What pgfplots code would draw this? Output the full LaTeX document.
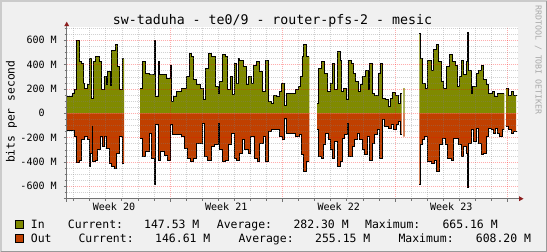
\documentclass[border=0pt]{standalone}
\usepackage{fontspec}
\setmainfont{DejaVu Sans Mono}
\usepackage{pgfplots}
\usepackage{pgfplotstable}
\pgfplotsset{compat=1.18}

\definecolor{bgc}{RGB}{240,240,240}
\definecolor{incol}{RGB}{128,138,0}
\definecolor{outcol}{RGB}{192,64,0}
\definecolor{arrowc}{RGB}{140,30,30}
\definecolor{shadea}{RGB}{203,203,203}
\definecolor{shadeb}{RGB}{153,153,153}
\definecolor{wmark}{RGB}{170,170,170}

% x = time position along the month (pixel column), y = bits per second in M
\pgfplotstableread{
x y
66.7 142
72.3 164
74.7 197
76.7 595
79.7 425
81.3 411
83.0 247
84.7 205
87.3 233
89.3 453
91.7 123
93.3 425
95.0 466
99.0 425
101.7 192
104.0 301
106.0 233
107.3 342
110.0 225
111.7 515
115.0 562
117.3 384
119.3 192
122.7 447
124.0 447
}\inA
\pgfplotstableread{
x y
66.7 -140
72.3 -145
74.7 -192
76.7 -405
79.7 -384
81.7 -219
84.0 -192
87.0 -219
89.0 -438
90.7 -329
92.0 -110
92.7 -397
95.7 -390
97.0 -301
100.0 -192
102.3 -274
104.7 -192
106.7 -288
109.0 -411
111.3 -438
114.0 -452
116.3 -329
119.0 -192
122.3 -411
124.0 -411
}\outA
\pgfplotstableread{
x y
140.0 205
142.3 425
145.7 330
149.3 315
151.3 315
154.3 595
155.3 137
158.0 425
159.3 315
166.7 288
170.0 397
171.3 95
173.3 137
176.7 178
181.7 206
186.7 301
189.0 494
191.7 466
193.3 274
196.7 233
200.0 206
203.3 110
205.7 370
208.3 494
211.7 466
215.0 219
218.3 164
219.7 260
222.3 480
225.0 466
227.7 192
230.0 301
232.3 151
234.0 411
236.3 247
238.0 453
239.7 438
243.0 384
246.3 233
248.7 301
251.0 247
253.7 397
256.3 425
259.7 342
262.0 178
265.3 438
268.3 96
271.3 82
273.0 150
276.3 137
279.7 178
281.7 247
284.7 68
286.3 164
295.3 192
298.0 219
300.3 301
302.0 466
303.7 562
306.0 466
309.3 466
}\inB
\pgfplotstableread{
x y
140.0 -205
142.3 -356
145.7 -315
149.0 -164
151.3 -370
154.3 -589
155.3 -96
158.0 -384
160.7 -315
164.0 -343
167.3 -384
170.0 -96
172.3 -178
181.0 -192
184.7 -288
187.3 -370
190.7 -397
193.0 -370
196.3 -247
202.0 -82
204.7 -356
207.3 -384
211.3 -274
214.7 -260
218.0 -82
219.7 -301
222.3 -397
225.0 -384
228.0 -260
231.3 -164
234.0 -370
236.3 -384
239.7 -329
242.0 -219
244.7 -301
248.0 -329
250.7 -192
254.0 -370
257.3 -397
259.7 -247
263.0 -192
265.3 -397
268.0 -151
271.3 -137
276.3 -130
279.7 -192
282.0 -219
284.7 -41
286.3 -164
295.3 -192
299.0 -178
301.3 -342
303.7 -480
306.0 -397
309.3 -397
}\outB
\pgfplotstableread{
x y
317.0 82
318.7 370
321.3 425
324.7 329
327.0 178
330.3 247
332.7 411
334.7 192
337.0 507
340.3 438
341.7 178
343.7 205
346.0 110
348.7 438
351.3 411
353.7 329
355.3 260
358.3 178
360.3 233
362.7 301
365.3 356
368.0 192
369.3 411
372.0 164
374.7 150
378.0 329
380.3 411
382.7 123
385.3 110
388.7 55
390.3 123
392.7 170
395.3 150
398.0 82
400.3 164
401.7 164
}\inC
\pgfplotstableread{
x y
317.0 -137
318.7 -356
321.3 -370
323.7 -260
325.3 -164
328.0 -219
330.3 -301
332.7 -370
334.7 -233
337.0 -438
340.3 -397
342.0 -205
344.7 -178
347.0 -82
348.7 -356
352.0 -274
354.7 -219
357.0 -164
359.3 -219
362.0 -301
364.7 -342
367.0 -192
369.3 -384
372.0 -247
374.7 -178
377.0 -137
379.3 -370
382.0 -55
384.7 -110
388.7 -123
391.3 -96
393.7 -137
396.0 -96
398.7 -69
400.3 -178
401.7 -178
}\outC
\pgfplotstableread{
x y
419.3 660
420.0 452
422.7 247
425.3 205
427.7 438
431.0 356
433.3 521
436.0 562
438.7 425
441.0 260
443.3 205
446.0 384
449.3 480
452.7 425
455.0 397
457.0 219
459.3 301
461.0 438
463.3 315
466.0 425
467.7 665
468.4 356
471.0 164
472.7 219
476.0 329
478.7 356
481.0 397
483.3 274
486.0 233
488.7 164
492.0 178
494.3 137
497.7 164
504.3 164
}\inD
\pgfplotstableread{
x y
419.3 -589
420.0 -260
422.7 -219
424.3 -192
427.7 -397
431.0 -411
434.3 -384
436.7 -480
439.3 -260
442.7 -205
445.3 -260
447.7 -370
451.0 -384
453.3 -205
458.3 -260
461.0 -356
463.3 -274
466.0 -329
467.7 -608
468.4 -247
471.0 -137
473.3 -233
476.0 -123
478.7 -247
481.0 -342
483.3 -329
486.0 -192
488.7 -123
491.0 -137
493.3 -164
495.7 -123
497.7 -164
499.7 -192
502.3 -137
504.3 -137
}\outD
\pgfplotstableread{
x y
506.0 205
508.7 150
511.0 178
513.3 150
516.0 148
}\inE
\pgfplotstableread{
x y
506.0 -110
508.7 -137
511.0 -164
513.3 -151
516.0 -147
}\outE

\begin{document}
\begin{tikzpicture}
\fill[bgc] (0bp,0bp) rectangle (547bp,-252bp);
\draw[shadea, line width=1.5bp] (0.75bp,-252bp) -- (0.75bp,-0.75bp) -- (547bp,-0.75bp);
\draw[shadeb, line width=1.5bp] (0.75bp,-251.25bp) -- (546.25bp,-251.25bp) -- (546.25bp,-0.75bp);

\begin{axis}[
  at={(66.7bp,-198.7bp)}, anchor=south west,
  scale only axis, width=451.3bp, height=172bp,
  xmin=66.7, xmax=518, ymin=-702, ymax=712,
  axis line style={draw=none},
  axis background/.style={fill=white},
  axis on top,
  tick align=outside, xtick pos=bottom, ytick pos=left,
  major tick length=3bp, minor tick length=2bp,
  every tick/.style={black!55, line width=0.6bp},
  xtick={170,282.49,394.98,507.47}, xticklabels={,,,},
  minor xtick={73.58,89.65,105.72,121.79,137.86,153.93,186.07,202.14,218.21,234.28,250.35,266.42,298.56,314.63,330.70,346.77,362.84,378.91,411.05,427.12,443.19,459.26,475.33,491.40},
  extra x ticks={114,226.25,338.7,451.2},
  extra x tick labels={Week 20,Week 21,Week 22,Week 23},
  extra x tick style={grid=none, major tick length=0pt},
  ytick={-600,-400,-200,0,200,400,600},
  yticklabels={-600 M,-400 M,-200 M,0\hphantom{MM},200 M,400 M,600 M},
  minor ytick={-700,-650,-550,-500,-450,-350,-300,-250,-150,-100,-50,50,100,150,250,300,350,450,500,550,650,700},
  grid=both,
  major grid style={red, opacity=0.32, dash pattern=on 1bp off 1bp, line width=0.55bp},
  minor grid style={gray, opacity=0.35, dash pattern=on 1bp off 1bp, line width=0.55bp},
  xticklabel style={font=\fontsize{10.1}{12}\selectfont, anchor=base, inner sep=0pt, yshift=-12bp},
  yticklabel style={font=\fontsize{10.1}{12}\selectfont, anchor=east, inner sep=0pt, xshift=-6.7bp},
  /pgf/number format/assume math mode=true,
  inarea/.style={const plot, fill=incol, draw=none},
  outarea/.style={const plot, fill=outcol, draw=none},
  bline/.style={const plot, black, line width=1bp},
]
\addplot[inarea] table {\inA} \closedcycle;
\addplot[outarea] table {\outA} \closedcycle;
\addplot[inarea] table {\inB} \closedcycle;
\addplot[outarea] table {\outB} \closedcycle;
\addplot[inarea] table {\inC} \closedcycle;
\addplot[outarea] table {\outC} \closedcycle;
\addplot[inarea] coordinates {(403.3,206) (404.7,206)} \closedcycle;
\addplot[outarea] coordinates {(403.3,-192) (404.7,-192)} \closedcycle;
\addplot[inarea] table {\inD} \closedcycle;
\addplot[outarea] table {\outD} \closedcycle;
\addplot[inarea] table {\inE} \closedcycle;
\addplot[outarea] table {\outE} \closedcycle;
\addplot[bline] table {\inA};
\addplot[bline] table {\outA};
\addplot[bline] table {\inB};
\addplot[bline] table {\outB};
\addplot[bline] table {\inC};
\addplot[bline] table {\outC};
\addplot[bline] table {\inD};
\addplot[bline] table {\outD};
\addplot[bline] table {\inE};
\addplot[bline] table {\outE};
\end{axis}

% axis lines and arrows
\draw[black!55, line width=1bp] (63.7bp,-198.7bp) -- (519.5bp,-198.7bp);
\draw[black!55, line width=1bp] (66.7bp,-201.7bp) -- (66.7bp,-25bp);
\fill[arrowc] (519bp,-196.2bp) -- (523.5bp,-198.7bp) -- (519bp,-201.2bp) -- cycle;
\fill[arrowc] (64.2bp,-26.2bp) -- (66.7bp,-21.7bp) -- (69.2bp,-26.2bp) -- cycle;

% title and labels
\node[anchor=base, inner sep=0pt, font=\fontsize{13.3}{16}\selectfont] at (272.5bp,-24bp) {sw-taduha - te0/9 - router-pfs-2 - mesic};
\node[rotate=90, anchor=base, inner sep=0pt, font=\fontsize{11.4}{14}\selectfont] at (14.5bp,-111.7bp) {bits per second};
\node[rotate=-90, anchor=base, inner sep=0pt, font=\fontsize{8.3}{10}\selectfont, text=wmark] at (535.5bp,-60bp) {RRDTOOL / TOBI OETIKER};

% legend
\filldraw[fill=incol, draw=black, line width=0.8bp] (15bp,-220bp) rectangle (23bp,-228bp);
\filldraw[fill=outcol, draw=black, line width=0.8bp] (15bp,-234bp) rectangle (23bp,-242bp);
\begin{scope}[every node/.style={anchor=base west, inner sep=0pt, font=\fontsize{11.5}{14}\selectfont}]
\node at (30.7bp,-228.3bp) {In};
\node at (67.7bp,-228.3bp) {Current:};
\node at (144bp,-228.3bp) {147.53 M};
\node at (216.7bp,-228.3bp) {Average:};
\node at (293.3bp,-228.3bp) {282.30 M};
\node at (365bp,-228.3bp) {Maximum:};
\node at (442.3bp,-228.3bp) {665.16 M};
\node at (30.7bp,-242.5bp) {Out};
\node at (78.3bp,-242.5bp) {Current:};
\node at (155bp,-242.5bp) {146.61 M};
\node at (238.3bp,-242.5bp) {Average:};
\node at (315bp,-242.5bp) {255.15 M};
\node at (398.3bp,-242.5bp) {Maximum:};
\node at (475.7bp,-242.5bp) {608.20 M};
\end{scope}
\pgfresetboundingbox
\useasboundingbox (0bp,0bp) rectangle (547bp,-252bp);
\end{tikzpicture}
\end{document}
